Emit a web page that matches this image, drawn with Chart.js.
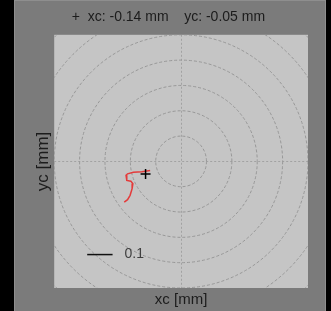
<!DOCTYPE html>
<html>
<head>
<meta charset="utf-8">
<script src="https://cdn.jsdelivr.net/npm/chart.js@4/dist/chart.umd.min.js"></script>
<style>
  html,body{margin:0;padding:0;background:#000;}
  #wrap{position:relative;width:331px;height:311px;}
</style>
</head>
<body>
<div id="wrap"><canvas id="c"></canvas></div>
<script>
// ---- data ----
const centerX = [-0.14];
const centerY = [-0.05];
const pathX = [-0.122,-0.155,-0.188,-0.211,-0.217,-0.214,-0.198,-0.190,-0.193,-0.201,-0.211,-0.224];
const pathY = [-0.036,-0.041,-0.043,-0.049,-0.055,-0.075,-0.078,-0.088,-0.108,-0.134,-0.151,-0.161];
const ringRadii = [0.1,0.2,0.3,0.4,0.5,0.6,0.7];
const axisRange = [-0.5, 0.5];
const scaleBarLength = 0.1;
const scaleBarLabel = '0.1';
const scaleBarPos = [-0.37, -0.368];
const titleText = '+  xc: -0.14 mm    yc: -0.05 mm';

const FONT = "'Liberation Sans', Arial, sans-serif";

const decor = {
  id: 'decor',
  beforeDraw(chart) {
    const ctx = chart.ctx, a = chart.chartArea;
    ctx.save();
    ctx.fillStyle = '#000';
    ctx.fillRect(0, 0, chart.width, chart.height);
    ctx.fillStyle = '#7b7b7b';
    ctx.fillRect(14, 0, 312, chart.height);
    ctx.strokeStyle = '#8e8e8e';
    ctx.lineWidth = 1;
    ctx.strokeRect(14.5, 0.5, 311, chart.height + 2);
    ctx.fillStyle = '#c5c5c5';
    ctx.fillRect(a.left, a.top, a.right - a.left, a.bottom - a.top);
    ctx.restore();
  },
  beforeDatasetsDraw(chart) {
    const ctx = chart.ctx, a = chart.chartArea;
    const xs = chart.scales.x, ys = chart.scales.y;
    const cx = xs.getPixelForValue(0), cy = ys.getPixelForValue(0);
    ctx.save();
    ctx.beginPath();
    ctx.rect(a.left, a.top, a.right - a.left, a.bottom - a.top);
    ctx.clip();
    ctx.strokeStyle = '#a2a2a2';
    ctx.lineWidth = 1;
    ctx.setLineDash([2, 2]);
    ctx.beginPath();
    ctx.moveTo(Math.round(cx) + 0.5, a.top); ctx.lineTo(Math.round(cx) + 0.5, a.bottom);
    ctx.moveTo(a.left, Math.round(cy) + 0.5); ctx.lineTo(a.right, Math.round(cy) + 0.5);
    ctx.stroke();
    ctx.strokeStyle = '#989898';
    ctx.setLineDash([3, 2]);
    ringRadii.forEach(r => {
      const rx = Math.abs(xs.getPixelForValue(r) - cx);
      const ry = Math.abs(ys.getPixelForValue(r) - cy);
      ctx.beginPath();
      ctx.ellipse(cx, cy, rx, ry, 0, 0, Math.PI * 2);
      ctx.stroke();
    });
    ctx.restore();
  },
  afterDatasetsDraw(chart) {
    const ctx = chart.ctx;
    const xs = chart.scales.x, ys = chart.scales.y;
    const x0 = xs.getPixelForValue(scaleBarPos[0]);
    const x1 = xs.getPixelForValue(scaleBarPos[0] + scaleBarLength);
    const y = ys.getPixelForValue(scaleBarPos[1]);
    ctx.save();
    ctx.strokeStyle = '#111';
    ctx.lineWidth = 1.5;
    ctx.beginPath();
    ctx.moveTo(x0, y); ctx.lineTo(x1, y);
    ctx.stroke();
    ctx.fillStyle = '#404040';
    ctx.font = '14px ' + FONT;
    ctx.textBaseline = 'middle';
    ctx.fillText(scaleBarLabel, x1 + 12, y);
    ctx.restore();
  }
};

new Chart(document.getElementById('c'), {
  type: 'scatter',
  data: {
    datasets: [
      {
        label: 'center',
        data: centerX.map((x, i) => ({x, y: centerY[i]})),
        pointStyle: 'cross',
        pointRadius: 5,
        borderColor: '#000',
        borderWidth: 1.5,
        showLine: false,
        order: 0
      },
      {
        label: 'path',
        data: pathX.map((x, i) => ({x, y: pathY[i]})),
        showLine: true,
        borderColor: '#e43b3b',
        borderWidth: 1.5,
        pointRadius: 0,
        tension: 0,
        order: 1
      }
    ]
  },
  options: {
    responsive: true,
    maintainAspectRatio: false,
    animation: false,
    layout: { padding: { left: 28.8, right: 23, top: 0, bottom: 0 } },
    plugins: {
      legend: { display: false },
      tooltip: { enabled: false },
      title: {
        display: true,
        text: titleText,
        color: '#1c1c1c',
        font: { family: FONT, size: 14, weight: 'normal' },
        padding: { top: 9, bottom: 9 }
      }
    },
    scales: {
      x: {
        type: 'linear', min: axisRange[0], max: axisRange[1],
        ticks: { display: false },
        grid: { display: false, drawTicks: false },
        border: { display: false },
        title: { display: true, text: 'xc [mm]', color: '#1c1c1c',
                 font: { family: FONT, size: 15 }, padding: { top: 3, bottom: 2 } }
      },
      y: {
        type: 'linear', min: axisRange[0], max: axisRange[1],
        ticks: { display: false },
        grid: { display: false, drawTicks: false },
        border: { display: false },
        title: { display: true, text: 'yc [mm]', color: '#1c1c1c',
                 font: { family: FONT, size: 17 }, padding: { top: 4, bottom: 1 } }
      }
    }
  },
  plugins: [decor]
});
</script>
</body>
</html>
